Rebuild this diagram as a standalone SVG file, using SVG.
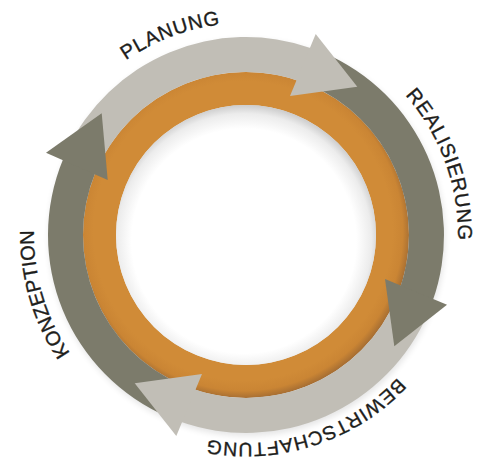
<svg xmlns="http://www.w3.org/2000/svg" width="489" height="463" viewBox="0 0 489 463">
  <defs>
    <style>
      .light { fill: #c1beb6; }
      .dark { fill: #7c7b6b; }
      .label { font-family: "Liberation Sans", Arial, sans-serif; font-size: 20px; letter-spacing: 0.8px; fill: #1d1d1b; stroke: #1d1d1b; stroke-width: 0.35px; }
    </style>
    <radialGradient id="og" gradientUnits="userSpaceOnUse" cx="243" cy="231" r="170">
      <stop offset="0.88" stop-color="#d08b37"/>
      <stop offset="0.94" stop-color="#ca8534"/>
      <stop offset="1" stop-color="#9a6632"/>
    </radialGradient>
    <radialGradient id="wg" gradientUnits="userSpaceOnUse" cx="244" cy="241" r="137">
      <stop offset="0.82" stop-color="#ffffff"/>
      <stop offset="0.93" stop-color="#ececec"/>
      <stop offset="1" stop-color="#c9c9c9"/>
    </radialGradient>
    <filter id="sh" x="-20%" y="-20%" width="140%" height="140%">
      <feGaussianBlur stdDeviation="3"/>
    </filter>
    <path id="tp1" d="M125.9,60.3 A212,212 0 0 1 352,51.4"/>
    <path id="tp2" d="M405.3,95.1 A212,212 0 0 1 445.2,307.5"/>
    <path id="tp3" d="M397.6,377.4 A208,208 0 0 1 174.9,430.5"/>
    <path id="tp4" d="M70,353.2 A212,212 0 0 1 46.8,162.5"/>
  </defs>

  <g id="ring">
    <circle cx="247" cy="238" r="198" fill="#000" opacity="0.1" filter="url(#sh)"/>
    <circle cx="246" cy="235" r="146.5" fill="none" stroke="url(#og)" stroke-width="33"/>
    <circle cx="246" cy="235" r="130" fill="url(#wg)"/>
  </g>

  <g id="connectors">
    <g id="shafts">
      <path class="light" d="M66.5,151.3 A198,198 0 0 1 312.1,48.4 L300.4,81.4 A163,163 0 0 0 98.3,166.1 Z"/>
      <path class="dark" d="M323.4,52.7 A198,198 0 0 1 432.6,301.1 L399.6,289.4 A163,163 0 0 0 309.7,85 Z"/>
      <path class="light" d="M428.3,312.4 A198,198 0 0 1 179.9,421.6 L191.6,388.6 A163,163 0 0 0 396,298.7 Z"/>
      <path class="dark" d="M168.6,417.3 A198,198 0 0 1 63.1,159.2 L95.4,172.6 A163,163 0 0 0 182.3,385 Z"/>
    </g>
    <g id="heads">
      <polygon class="light" points="315.7,34 357.3,86.7 290,96"/>
      <polygon class="dark" points="447,304.7 394.3,346.3 385,279"/>
      <polygon class="light" points="176.3,436 134.7,383.3 202,374"/>
      <polygon class="dark" points="46,152.7 101.7,113.3 107.7,180"/>
    </g>
  </g>

  <g id="planung"><text class="label"><textPath href="#tp1">PLANUNG</textPath></text></g>
  <g id="realisierung"><text class="label"><textPath href="#tp2">REALISIERUNG</textPath></text></g>
  <g id="bewirtschaftung"><text class="label" style="font-size:19.5px"><textPath href="#tp3">BEWIRTSCHAFTUNG</textPath></text></g>
  <g id="konzeption"><text class="label" style="letter-spacing:0px"><textPath href="#tp4">KONZEPTION</textPath></text></g>
</svg>
